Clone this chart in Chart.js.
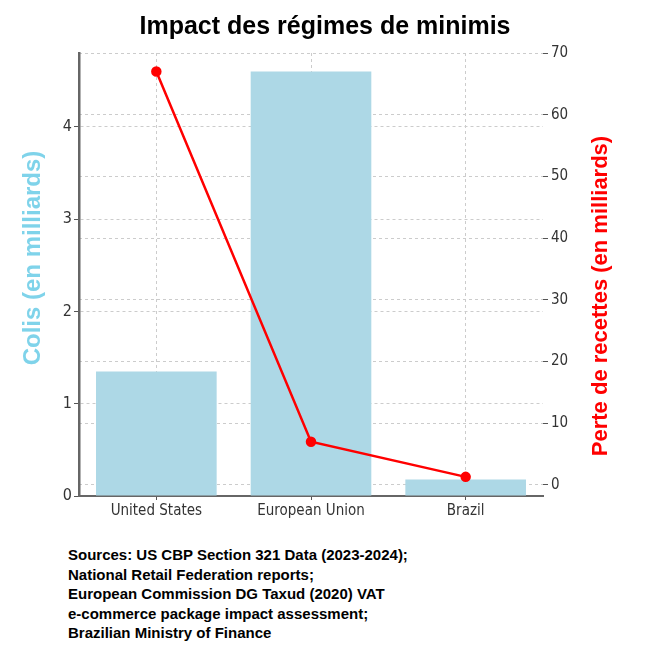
<!DOCTYPE html>
<html>
<head>
<meta charset="utf-8">
<script src="https://cdn.jsdelivr.net/npm/chart.js@4"></script>
<style>
    body { margin: 0; background: #fff; }
    #wrap { position: relative; width: 650px; height: 540px; }
    #notes {
        position: absolute; left: 68px; top: 545px;
        font: bold 15px "Liberation Sans", Arial, sans-serif;
        line-height: 19.5px; color: #000;
    }
</style>
</head>
<body>
<div id="wrap"><canvas id="comboChart"></canvas></div>
<div id="notes">
    Sources: US CBP Section 321 Data (2023-2024);<br>
    National Retail Federation reports;<br>
    European Commission DG Taxud (2020) VAT<br>
    e-commerce package impact assessment;<br>
    Brazilian Ministry of Finance
</div>
<script>
const regions = ['United States', 'European Union', 'Brazil'];
const parcels = [1.35, 4.6, 0.18];      // Colis (en milliards)
const revenueLoss = [67, 7, 1.3];       // Perte de recettes (en milliards)

const tickFont = { family: '"DejaVu Sans Condensed", "DejaVu Sans", sans-serif', size: 15 };
const gridStyle = { color: '#cccccc', lineWidth: 1, tickLength: 5, tickColor: '#555' };

// both axis titles read bottom-to-top, so draw them by hand
const axisTitles = {
    id: 'axisTitles',
    afterDraw(chart) {
        const c = chart.ctx;
        const draw = (text, x, y, color, size) => {
            c.save();
            c.translate(x, y);
            c.rotate(-Math.PI / 2);
            c.font = 'bold ' + size + 'px "Liberation Sans", Arial, sans-serif';
            c.fillStyle = color;
            c.textAlign = 'center';
            c.textBaseline = 'middle';
            c.fillText(text, 0, 0);
            c.restore();
        };
        draw('Colis (en milliards)', 33, 258, '#7fd3ea', 24);
        draw('Perte de recettes (en milliards)', 601, 296, '#ff0000', 22);
    }
};

document.addEventListener('DOMContentLoaded', () => {
    const ctx = document.getElementById('comboChart').getContext('2d');
    new Chart(ctx, {
        data: {
            labels: regions,
            datasets: [{
                type: 'line',
                label: 'Perte de recettes',
                data: revenueLoss,
                yAxisID: 'y1',
                borderColor: '#ff0000',
                backgroundColor: '#ff0000',
                borderWidth: 2.5,
                pointRadius: 4,
                pointHoverRadius: 4,
                tension: 0
            }, {
                type: 'bar',
                label: 'Colis',
                data: parcels,
                yAxisID: 'y',
                backgroundColor: '#add8e6',
                barPercentage: 0.78,
                categoryPercentage: 1
            }]
        },
        options: {
            responsive: true,
            maintainAspectRatio: false,
            animation: false,
            layout: { padding: 0 },
            plugins: {
                legend: { display: false },
                tooltip: { enabled: false },
                title: {
                    display: true,
                    text: 'Impact des régimes de minimis',
                    color: '#000',
                    font: { family: '"Liberation Sans", Arial, sans-serif', size: 25, weight: 'bold' },
                    padding: { top: 12, bottom: 11 }
                }
            },
            scales: {
                x: {
                    grid: { ...gridStyle, offset: false, tickLength: 4 },
                    border: { color: '#666', width: 2, dash: [3, 3] },
                    ticks: { font: tickFont, color: '#333', padding: 2 },
                    afterFit: s => { s.height = 44; }
                },
                y: {
                    position: 'left',
                    min: 0,
                    max: 4.8,
                    grid: { ...gridStyle },
                    border: { color: '#666', width: 2.5, dash: [3, 3] },
                    ticks: { stepSize: 1, includeBounds: false, font: { ...tickFont, size: 16 }, color: '#333', padding: 2 },
                    afterFit: s => { s.width = 79; }
                },
                y1: {
                    position: 'right',
                    min: -1.8,
                    max: 70,
                    grid: { ...gridStyle },
                    border: { display: false, dash: [3, 3] },
                    ticks: { stepSize: 10, includeBounds: false, font: tickFont, color: '#333', padding: 3 },
                    afterFit: s => { s.width = 107; }
                }
            }
        },
        plugins: [axisTitles]
    });
});
</script>
</body>
</html>
